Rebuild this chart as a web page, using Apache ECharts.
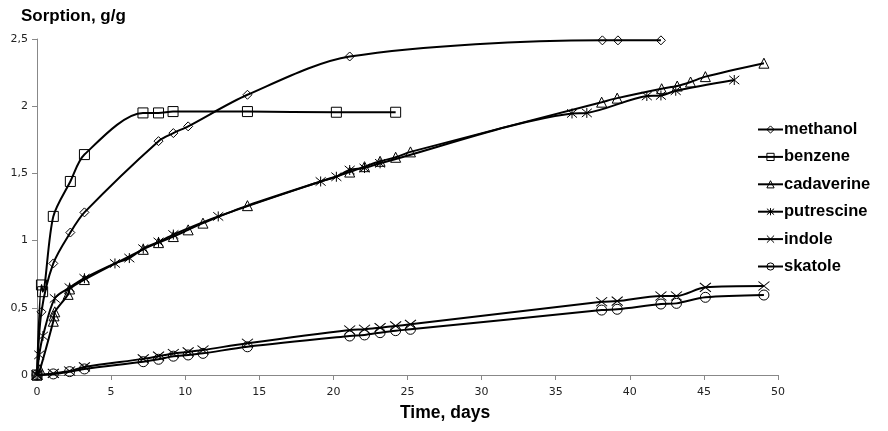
<!DOCTYPE html>
<html>
<head>
<meta charset="utf-8">
<script src="https://cdn.jsdelivr.net/npm/echarts@6/dist/echarts.min.js"></script>
<style>
  html, body { margin: 0; padding: 0; background: #fff; }
  #chart { width: 888px; height: 431px; }
</style>
</head>
<body>
<div id="chart"></div>
<script>
// values: [day, sorption g/g]
var methanol = [[0, 0], [0.3, 0.47], [1.1, 0.83], [2.25, 1.06], [3.2, 1.21], [8.2, 1.74], [9.2, 1.80],
  [10.2, 1.85], [14.2, 2.085], [21.1, 2.37], [38.15, 2.49], [39.2, 2.49], [42.1, 2.49]];
var benzene = [[0, 0], [0.3, 0.67], [0.38, 0.62], [1.1, 1.18], [2.25, 1.44], [3.2, 1.64], [7.15, 1.95],
  [8.2, 1.95], [9.18, 1.96], [14.2, 1.96], [20.2, 1.955], [24.2, 1.955]];
var cadaverine = [[0, 0], [0.2, 0.04], [1.1, 0.40], [1.15, 0.44], [1.2, 0.47], [2.1, 0.60], [2.2, 0.64],
  [3.2, 0.71], [7.17, 0.935], [8.2, 0.985], [9.2, 1.03], [10.2, 1.08], [11.2, 1.13], [14.2, 1.26],
  [21.1, 1.51], [22.1, 1.55], [23.15, 1.59], [24.2, 1.62], [25.2, 1.66], [38.1, 2.03], [39.15, 2.06],
  [42.15, 2.13], [43.2, 2.15], [44.1, 2.18], [45.1, 2.22], [49.05, 2.32]];
var putrescine = [[0, 0], [0.15, 0.15], [0.4, 0.29], [1.2, 0.57], [2.2, 0.65], [3.2, 0.72], [5.26, 0.83],
  [6.23, 0.87], [7.17, 0.94], [8.2, 0.99], [9.2, 1.045], [12.23, 1.18], [19.14, 1.44], [20.2, 1.475],
  [21.1, 1.525], [22.1, 1.54], [23.15, 1.575], [36.1, 1.946], [37.1, 1.95], [41.15, 2.076],
  [42.1, 2.08], [43.1, 2.115], [47.05, 2.195]];
var indole = [[0, 0], [1.1, 0.012], [2.2, 0.03], [3.2, 0.06], [7.17, 0.12], [8.2, 0.14], [9.2, 0.16],
  [10.2, 0.172], [11.2, 0.186], [14.2, 0.236], [21.1, 0.335], [22.1, 0.34], [23.15, 0.352],
  [24.2, 0.365], [25.2, 0.377], [38.1, 0.545], [39.15, 0.55], [42.1, 0.588], [43.15, 0.588],
  [45.1, 0.652], [49.05, 0.662]];
var skatole = [[0, 0], [1.1, 0.008], [2.2, 0.025], [3.2, 0.045], [7.17, 0.099], [8.2, 0.117], [9.2, 0.14],
  [10.2, 0.149], [11.2, 0.161], [14.2, 0.21], [21.1, 0.29], [22.1, 0.298], [23.15, 0.315],
  [24.2, 0.33], [25.2, 0.34], [38.1, 0.483], [39.15, 0.489], [42.1, 0.528], [43.15, 0.533],
  [45.1, 0.578], [49.05, 0.595]];

var names = ['methanol', 'benzene', 'cadaverine', 'putrescine', 'indole', 'skatole'];
var datasets = [methanol, benzene, cadaverine, putrescine, indole, skatole];
var symbols = ['diamond', 'rect', 'triangle',
  'path://M0,0L10,10M10,0L0,10M5,-1L5,11',
  'path://M0,0L12,9M12,0L0,9',
  'circle'];
var sizes = [9, 10, 10, 10, [11, 9], 10];

var hollow = { color: 'rgba(0,0,0,0)', borderColor: '#000', borderWidth: 1 };

var chart = echarts.init(document.getElementById('chart'));

function makeSeries(name, i) {
  return {
    name: name,
    type: 'line',
    data: datasets[i],
    smooth: 0.3,
    symbol: symbols[i],
    symbolSize: sizes[i],
    showAllSymbol: true,
    lineStyle: { color: '#000', width: 2 },
    itemStyle: hollow,
    emphasis: { disabled: true },
    z: 2
  };
}

chart.setOption({
  animation: false,
  textStyle: { fontFamily: 'Liberation Sans, Arial, sans-serif' },
  grid: { left: 37, right: 110, top: 39, bottom: 56 },
  title: {
    text: 'Sorption, g/g',
    left: 16, top: 3,
    textStyle: { fontSize: 17, fontWeight: 'bold', color: '#000' }
  },
  graphic: [{
    type: 'text',
    left: 400, top: 404,
    style: { text: 'Time, days', font: 'bold 17.5px Liberation Sans, Arial, sans-serif', fill: '#000' }
  }],
  legend: {
    orient: 'vertical',
    left: 752, top: 116,
    itemWidth: 25, itemHeight: 9, itemGap: 10.4,
    itemStyle: hollow,
    lineStyle: { color: '#000', width: 2 },
    textStyle: { fontSize: 16.5, fontWeight: 'bold', color: '#000', padding: [0, 0, 0, -4] },
    data: names
  },
  xAxis: {
    type: 'value',
    min: 0, max: 50, interval: 5,
    axisLine: { lineStyle: { color: '#888' } },
    axisTick: { length: 5, lineStyle: { color: '#888' } },
    axisLabel: { fontSize: 11, color: '#222', margin: 12, fontFamily: 'DejaVu Sans, sans-serif' },
    splitLine: { show: false }
  },
  yAxis: {
    type: 'value',
    min: 0, max: 2.5, interval: 0.5,
    axisLine: { show: true, lineStyle: { color: '#888' } },
    axisTick: { show: true, length: 5, lineStyle: { color: '#888' } },
    axisLabel: {
      fontSize: 11, color: '#222', margin: 9, fontFamily: 'DejaVu Sans, sans-serif',
      formatter: function (v) { return String(v).replace('.', ','); }
    },
    splitLine: { show: false }
  },
  series: names.map(makeSeries)
});
</script>
</body>
</html>
